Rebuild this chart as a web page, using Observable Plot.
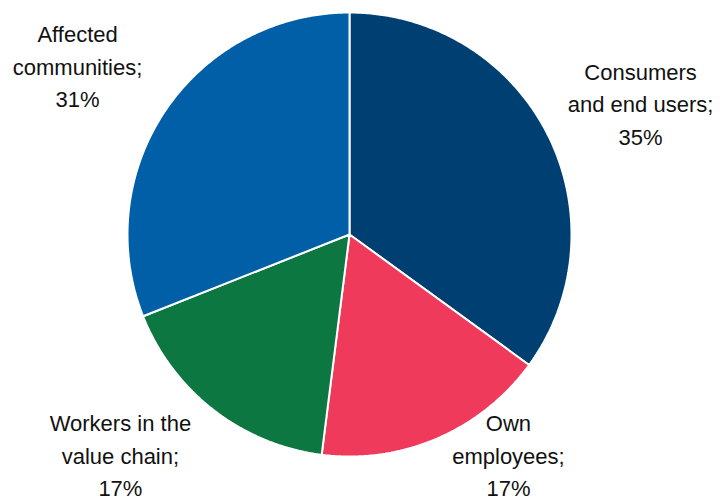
<!DOCTYPE html>
<html>
<head>
<meta charset="utf-8">
<script src="https://cdn.jsdelivr.net/npm/d3@7"></script>
<script src="https://cdn.jsdelivr.net/npm/@observablehq/plot@0.6"></script>
<style>
  html, body { margin: 0; padding: 0; background: #fff; }
  #chart svg { display: block; }
</style>
</head>
<body>
<div id="chart"></div>
<script>
// Data (clockwise from 12 o'clock)
const categories = ["Consumers and end users", "Own employees", "Workers in the value chain", "Affected communities"];
const labels = ["Consumers\nand end users;\n35%", "Own\nemployees;\n17%", "Workers in the\nvalue chain;\n17%", "Affected\ncommunities;\n31%"];
const values = [35, 17, 17, 31];
const colors = ["#003f72", "#ef3a5c", "#0d7741", "#005fa7"];
// label anchor positions (in pie-radius units, centre = 0,0)
const labelX = [1.311, 0.716, -1.032, -1.225];
const labelY = [0.597, -0.986, -0.986, 0.766];

const pie = d3.pie().sort(null).value(d => d.value)(categories.map((c, i) => ({cat: c, value: values[i]})));

const points = [];
for (const a of pie) {
  const cat = a.data.cat;
  points.push({cat, x: 0, y: 0});
  const n = Math.max(2, Math.ceil((a.endAngle - a.startAngle) / (Math.PI / 360)));
  for (let k = 0; k <= n; k++) {
    const t = a.startAngle + (a.endAngle - a.startAngle) * k / n;
    points.push({cat, x: Math.sin(t), y: Math.cos(t)});
  }
  points.push({cat, x: 0, y: 0});
}

const labelData = categories.map((c, i) => ({text: labels[i], x: labelX[i], y: labelY[i]}));

const chart = Plot.plot({
  width: 723,
  height: 501,
  marginLeft: 127,
  marginRight: 152,
  marginTop: 12,
  marginBottom: 45,
  x: {domain: [-1, 1], axis: null},
  y: {domain: [-1, 1], axis: null},
  color: {domain: categories, range: colors},
  style: {fontFamily: "'Liberation Sans', Arial, sans-serif", background: "#fff", overflow: "visible"},
  marks: [
    Plot.line(points, {x: "x", y: "y", z: "cat", fill: "cat", stroke: "#fff", strokeWidth: 2, strokeLinejoin: "miter", curve: "linear"}),
    Plot.text(labelData, {x: "x", y: "y", text: "text", fontSize: 22, lineHeight: 1.47, lineAnchor: "middle", textAnchor: "middle", fill: "#111"})
  ]
});
document.getElementById("chart").appendChild(chart);
</script>
</body>
</html>
